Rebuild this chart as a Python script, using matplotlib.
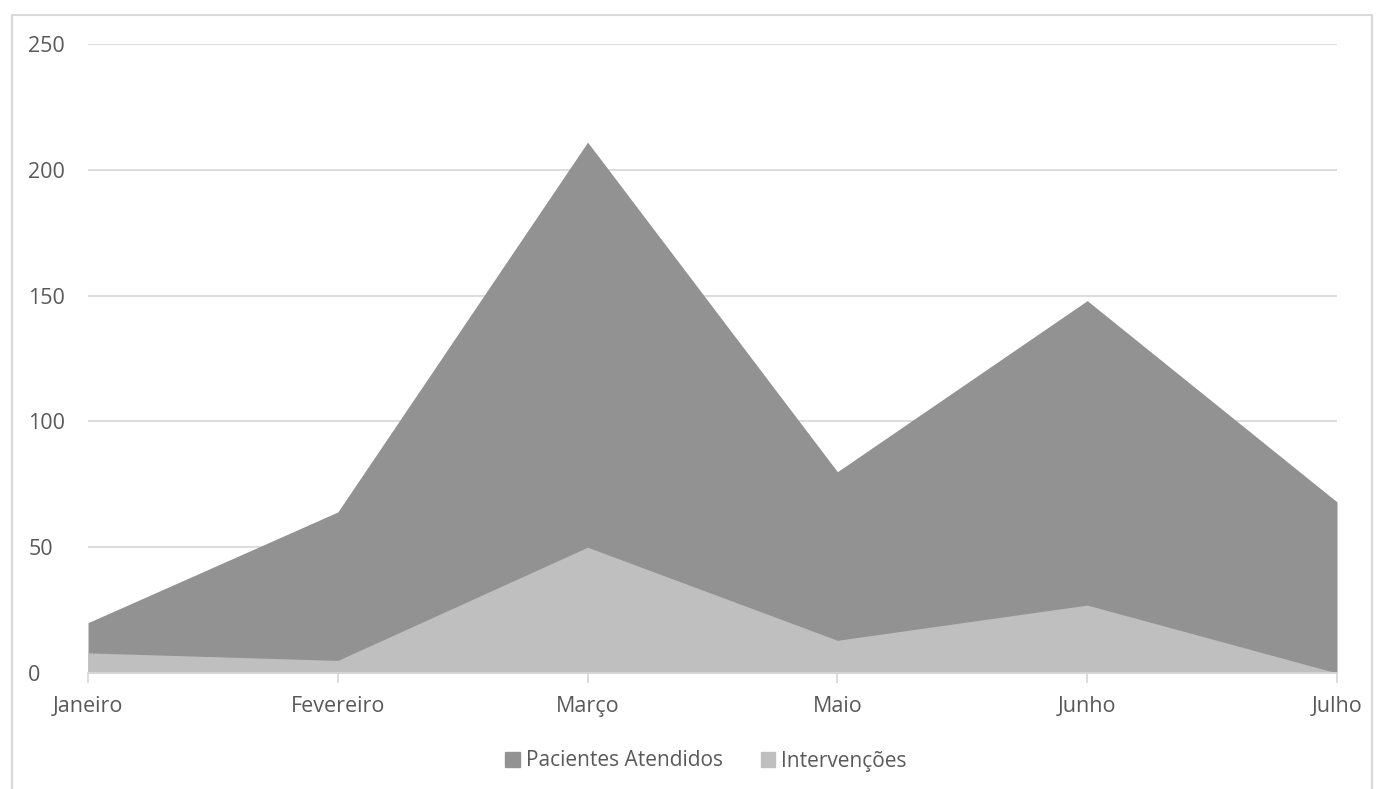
import matplotlib
matplotlib.use("Agg")
import matplotlib.pyplot as plt
from matplotlib.patches import Rectangle, Patch

# monthly counts
meses = ["Janeiro", "Fevereiro", "Março", "Maio", "Junho", "Julho"]
pacientes = [20, 64, 211, 80, 148, 68]
intervencoes = [8, 5, 50, 13, 27, 0]

plt.rcParams["font.family"] = ["Open Sans", "DejaVu Sans"]
txt = "#595959"
grid = "#d9d9d9"

fig = plt.figure(figsize=(13.84, 7.89), dpi=100)
ax = fig.add_axes([88 / 1384, 116 / 789, 1249 / 1384, 629 / 789])

x = list(range(len(meses)))
ax.fill_between(x, 0, pacientes, color="#929292", linewidth=0, zorder=2)
ax.fill_between(x, 0, intervencoes, color="#bfbfbf", linewidth=0, zorder=3)

ax.set_xlim(0, len(meses) - 1)
ax.set_ylim(0, 250)
ax.set_yticks(range(0, 251, 50))
ax.set_xticks(x)
ax.set_xticklabels(meses)
ax.yaxis.grid(True, color=grid, linewidth=1.3, zorder=0)
ax.set_axisbelow(True)
for s in ["top", "right", "left"]:
    ax.spines[s].set_visible(False)
ax.spines["bottom"].set_color(grid)
ax.spines["bottom"].set_linewidth(1.3)
ax.spines["bottom"].set_zorder(4)
ax.tick_params(axis="y", length=0, pad=43, labelsize=15.5, labelcolor=txt)
ax.tick_params(axis="x", length=7, width=1.3, color=grid, pad=9.5,
               labelsize=15.5, labelcolor=txt)
for lbl in ax.get_yticklabels():
    lbl.set_horizontalalignment("left")

handles = [Patch(color="#929292", label="Pacientes Atendidos"),
           Patch(color="#bfbfbf", label="Intervenções")]
fig.legend(handles=handles, loc="center", bbox_to_anchor=(706 / 1384, 1 - 761 / 789),
           ncol=2, frameon=False, fontsize=15, labelcolor=txt,
           handlelength=0.7, handleheight=0.7, handletextpad=0.3, columnspacing=1.8)

# chart area border
fig.patches.append(Rectangle((12 / 1384, -0.05), 1360 / 1384, 1 - 15 / 789 + 0.05,
                             transform=fig.transFigure, fill=False,
                             edgecolor=grid, linewidth=1.5))

fig.savefig("out.png", dpi=100)
